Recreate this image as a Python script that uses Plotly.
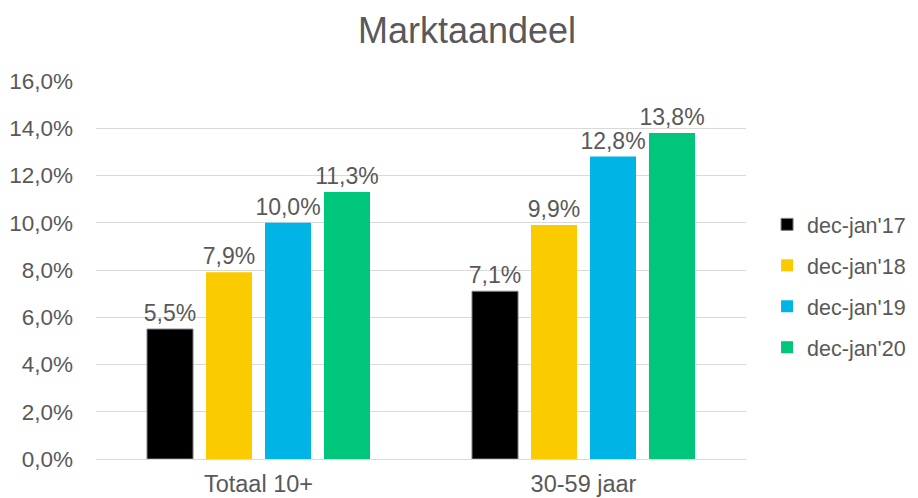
import plotly.graph_objects as go

categories = ["Totaal 10+", "30-59 jaar"]
series_names = ["dec-jan'17", "dec-jan'18", "dec-jan'19", "dec-jan'20"]
values = {
    "dec-jan'17": [5.5, 7.1],
    "dec-jan'18": [7.9, 9.9],
    "dec-jan'19": [10.0, 12.8],
    "dec-jan'20": [11.3, 13.8],
}
colors = ["#000000", "#FACC00", "#00B5E5", "#00C67C"]
y_ticks = [0, 2, 4, 6, 8, 10, 12, 14, 16]
y_tick_labels = [f"{v:.1f}%".replace(".", ",") for v in y_ticks]

FONT = "Liberation Sans, Arial"
GREY = "#595959"

fig = go.Figure()
for name, col in zip(series_names, colors):
    vals = values[name]
    fig.add_trace(go.Bar(
        x=categories, y=vals, name=name, legendgroup=name,
        marker=dict(color=col,
                    line=dict(color="#7f7f7f" if col == "#000000" else col,
                              width=1 if col == "#000000" else 0)),
        text=[f"{v:.1f}%".replace(".", ",") for v in vals],
        textposition="outside", cliponaxis=False,
        textfont=dict(size=23, color=GREY, family=FONT),
    ))

fig.update_layout(
    width=918, height=498,
    margin=dict(l=88, r=180, t=73, b=47, autoexpand=False),
    paper_bgcolor="white", plot_bgcolor="white",
    barmode="group", bargap=0.274, bargroupgap=0.22,
    uniformtext=dict(minsize=23, mode="show"),
    font=dict(family=FONT, color=GREY, size=22),
    title=dict(text="Marktaandeel", x=0.5, xref="container", xanchor="center",
               y=0.956, yref="container", yanchor="middle",
               font=dict(size=36, color=GREY)),
    showlegend=True,
    legend=dict(x=1.0324, y=0.458, xanchor="left", yanchor="middle",
                font=dict(size=21.5, color=GREY), tracegroupgap=10,
                itemwidth=30),
    yaxis=dict(range=[0, 16], tickvals=y_ticks, ticktext=y_tick_labels,
               showgrid=True, gridcolor="#d9d9d9", gridwidth=1, zeroline=False,
               showline=False, ticks="", ticklabelstandoff=22, automargin=False,
               tickfont=dict(size=22.5, color=GREY)),
    xaxis=dict(showline=True, linecolor="#d9d9d9", linewidth=1, ticks="",
               automargin=False, ticklabelstandoff=4,
               tickfont=dict(size=23.5, color=GREY)),
)
fig.write_html("out.html")
